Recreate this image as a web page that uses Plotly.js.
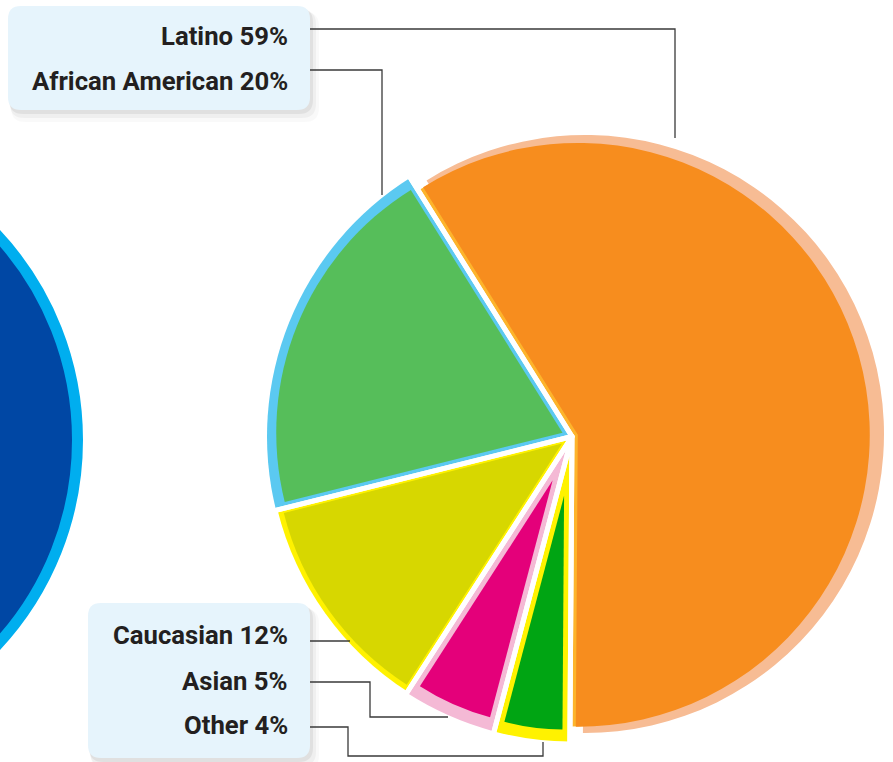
<!DOCTYPE html>
<html><head><meta charset="utf-8">
<script src="https://cdn.plot.ly/plotly-3.0.1.min.js"></script>
<style>html,body{margin:0;padding:0;background:#fff}#chart{width:893px;height:762px}</style>
</head><body><div id="chart"></div>
<script>
// ---- data ----
const labels = ['Latino', 'Other', 'Asian', 'Caucasian', 'African American'];
const values = [59, 4, 5, 12, 20];
const topBoxLabels = ['Latino', 'African American'];
const bottomBoxLabels = ['Caucasian', 'Asian', 'Other'];

// ---- colours ----
const fillColors = ['#F78D1E', '#00A513', '#E4007A', '#D7D700', '#56BE5A'];
const edgeColors = ['#FDB42C', '#FFF200', '#F4B9D5', '#FFF200', '#5BC9F1'];
const shadowColor = '#F7BC94';
const CLEAR = 'rgba(0,0,0,0)';

// ---- geometry (px) ----
const W = 893, H = 762;
const O = {x: 572, y: 436.5};
const ROT = -32;
const fillR = [298, 293.5, 293, 299, 296.5];   // outer extent of fill along bisector
const edgeR = [290, 305, 305, 303.5, 305];     // outer radius of coloured edge
const sideW = [3.3, 5, 5, 2, 3.5];             // visible edge width on the radial sides
const GAP = 5;

const X = v => v / W, Y = v => 1 - v / H;
const total = values.reduce((a, b) => a + b, 0);

function pie(colors, lineColor, lineWidth, cx, cy, half, pull) {
  return {
    type: 'pie', values: values, labels: labels, sort: false,
    direction: 'clockwise', rotation: ROT,
    marker: {colors: colors, line: {color: lineColor, width: lineWidth}},
    textinfo: 'none', hoverinfo: 'none', showlegend: false,
    pull: pull || 0,
    domain: {x: [X(cx - half), X(cx + half)], y: [Y(cy + half), Y(cy - half)]}
  };
}
const only = (k, c) => values.map((_, i) => i === k ? c : CLEAR);

const traces = [];
// salmon offset shadow behind the largest slice
traces.push(pie(only(0, shadowColor), CLEAR, 0, 585, 434, 299));
// coloured edges
values.forEach((v, k) => traces.push(pie(only(k, edgeColors[k]), CLEAR, 0, O.x, O.y, edgeR[k])));
// inset fills
values.forEach((v, k) => {
  const half = v / total * Math.PI;
  const d = (sideW[k] + GAP / 2) / Math.sin(half);
  const r = fillR[k] - d;
  const pull = values.map((_, i) => i === k ? d / r : 0);
  traces.push(pie(only(k, fillColors[k]), CLEAR, 0, O.x, O.y, fillR[k], pull));
});
// white separators
traces.push(pie(values.map(() => CLEAR), '#FFFFFF', GAP, O.x, O.y, 320));

// ---- decorations ----
function rr(x0, y0, x1, y1, r) {
  return `M ${X(x0 + r)},${Y(y0)} L ${X(x1 - r)},${Y(y0)} Q ${X(x1)},${Y(y0)} ${X(x1)},${Y(y0 + r)} ` +
    `L ${X(x1)},${Y(y1 - r)} Q ${X(x1)},${Y(y1)} ${X(x1 - r)},${Y(y1)} ` +
    `L ${X(x0 + r)},${Y(y1)} Q ${X(x0)},${Y(y1)} ${X(x0)},${Y(y1 - r)} ` +
    `L ${X(x0)},${Y(y0 + r)} Q ${X(x0)},${Y(y0)} ${X(x0 + r)},${Y(y0)} Z`;
}
function poly(pts) {
  return pts.map((p, i) => (i ? 'L ' : 'M ') + X(p[0]) + ',' + Y(p[1])).join(' ');
}
const shapes = [];
// big blue disc on the left edge
shapes.push({type: 'circle', xref: 'paper', yref: 'paper', layer: 'below',
  x0: X(-224 - 301.5), x1: X(-224 + 301.5), y0: Y(440 + 301.5), y1: Y(440 - 301.5),
  fillcolor: '#0047A4', line: {color: '#00AEEF', width: 11}});

const boxes = [[8, 6, 310, 110], [88, 603, 310, 758]];
boxes.forEach(b => {
  [[6, 9, 3, 0.025], [4, 6, 2, 0.04], [2, 3, 1, 0.06]].forEach(s => {
    shapes.push({type: 'path', xref: 'paper', yref: 'paper', layer: 'above',
      path: rr(b[0] + s[0] - s[2], b[1] + s[1] - s[2], b[2] + s[0] + s[2], b[3] + s[1] + s[2], 14),
      fillcolor: `rgba(0,0,0,${s[3]})`, line: {width: 0}});
  });
  shapes.push({type: 'path', xref: 'paper', yref: 'paper', layer: 'above',
    path: rr(b[0], b[1], b[2], b[3], 13), fillcolor: '#E6F4FC', line: {width: 0}});
});

const leaders = [
  [[310, 29], [675, 29], [675, 138]],
  [[310, 70], [382, 70], [382, 195]],
  [[310, 641], [350, 641]],
  [[310, 682], [370, 682], [370, 717], [448, 717]],
  [[310, 727], [348, 727], [348, 756], [543, 756], [543, 742]]
];
leaders.forEach(p => shapes.push({type: 'path', xref: 'paper', yref: 'paper', layer: 'above',
  path: poly(p), line: {color: '#3A3A3A', width: 1.3}}));

const labelY = {'Latino': 36, 'African American': 81, 'Caucasian': 635, 'Asian': 681, 'Other': 725};
const annotations = topBoxLabels.concat(bottomBoxLabels).map(l => ({
  xref: 'paper', yref: 'paper', x: X(290), y: Y(labelY[l]), xanchor: 'right', yanchor: 'middle',
  showarrow: false, text: l + ' ' + values[labels.indexOf(l)] + '%',
  font: {family: 'Roboto, "Open Sans", sans-serif', size: 25.7, color: '#231F20', weight: 'bold'}
}));

Plotly.newPlot('chart', traces, {
  width: W, height: H, margin: {l: 0, r: 0, t: 0, b: 0},
  paper_bgcolor: '#FFFFFF', plot_bgcolor: '#FFFFFF',
  showlegend: false, shapes: shapes, annotations: annotations
}, {staticPlot: true, displayModeBar: false});
</script>
</body></html>
